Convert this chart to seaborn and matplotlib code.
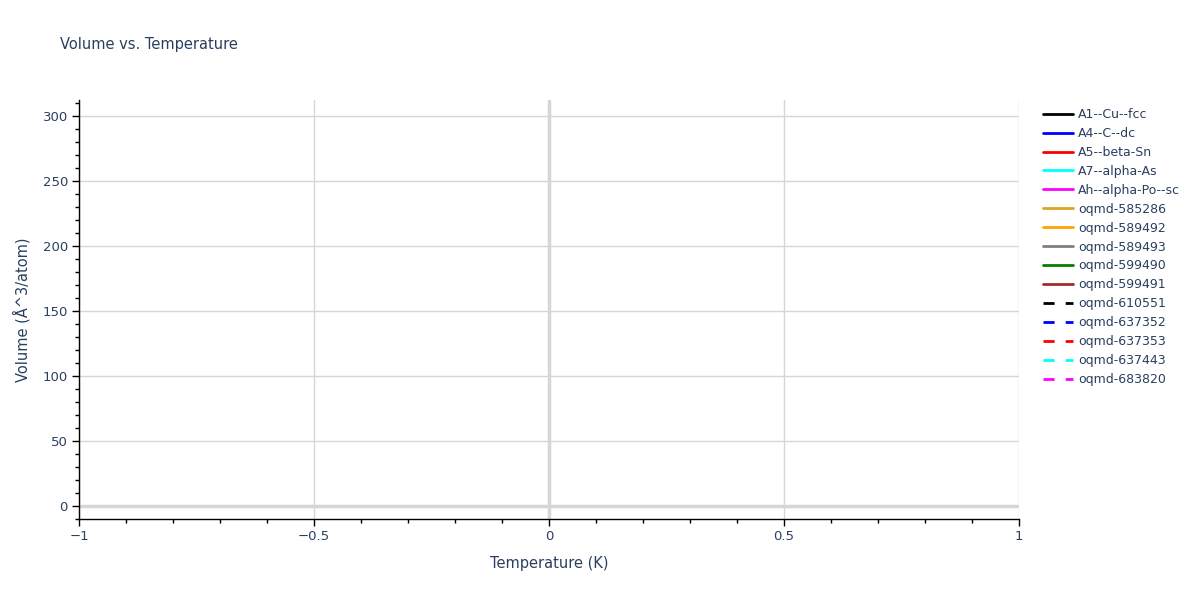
import matplotlib
matplotlib.use("Agg")
import matplotlib.pyplot as plt
import seaborn as sns
import numpy as np
import pandas as pd
from matplotlib.ticker import MultipleLocator, FuncFormatter

sns.set_theme(style="white")
plt.rcParams['font.family'] = ['DejaVu Sans']

series_names = ["A1--Cu--fcc", "A4--C--dc", "A5--beta-Sn", "A7--alpha-As", "Ah--alpha-Po--sc",
                "oqmd-585286", "oqmd-589492", "oqmd-589493", "oqmd-599490", "oqmd-599491",
                "oqmd-610551", "oqmd-637352", "oqmd-637353", "oqmd-637443", "oqmd-683820"]
series_colors = ["black", "blue", "red", "cyan", "magenta",
                 "goldenrod", "orange", "gray", "green", "brown",
                 "black", "blue", "red", "cyan", "magenta"]
series_dashed = [False]*10 + [True]*5
# No visible data in the reference: every series is empty
temperature = [[] for _ in series_names]
volume = [[] for _ in series_names]

x_range = [-1, 1]
y_range = [-10, 312]
x_ticks = [-1, -0.5, 0, 0.5, 1]
y_ticks = [0, 50, 100, 150, 200, 250, 300]

txt = "#2a3f5f"
fig = plt.figure(figsize=(12, 6), dpi=100)
ax = fig.add_axes([79/1200, 1-519/600, 940/1200, 419/600])

for name, col, dash, xs, ys in zip(series_names, series_colors, series_dashed, temperature, volume):
    df = pd.DataFrame({"T": pd.Series(xs, dtype=float), "V": pd.Series(ys, dtype=float)})
    ax.plot(df["T"], df["V"], color=col, lw=2, ls=(0, (4, 4)) if dash else "-", label=name)

ax.set_xlim(*x_range)
ax.set_ylim(*y_range)
ax.set_xticks(x_ticks)
ax.set_yticks(y_ticks)
ax.xaxis.set_minor_locator(MultipleLocator(0.1))
ax.yaxis.set_minor_locator(MultipleLocator(10))
ax.xaxis.set_major_formatter(FuncFormatter(lambda v, p: ("%g" % v).replace("-", "\u2212")))
ax.grid(True, which="major", color="#d6d6d6", lw=1)
ax.set_axisbelow(True)
ax.axhline(0, color="#d6d6d6", lw=2.5, zorder=1)
ax.axvline(0, color="#d6d6d6", lw=2.5, zorder=1)

for s in ["top", "right"]:
    ax.spines[s].set_visible(False)
for s in ["left", "bottom"]:
    ax.spines[s].set_color("black")
    ax.spines[s].set_linewidth(1)
ax.tick_params(which="major", direction="out", length=5, width=1, color="black", labelcolor=txt, labelsize=9.5,
               left=True, bottom=True, pad=3)
ax.tick_params(which="minor", direction="out", length=3, width=1, color="black", left=True, bottom=True)

ax.set_xlabel("Temperature (K)", color=txt, fontsize=10.5, labelpad=9)
ax.set_ylabel("Volume (Å^3/atom)", color=txt, fontsize=10.5, labelpad=9)
fig.text(60/1200, 1-45/600, "Volume vs. Temperature", color=txt, fontsize=10.5, va="center", ha="left")

leg = ax.legend(loc="upper left", bbox_to_anchor=(1038/1200, 1-103/600), bbox_transform=fig.transFigure,
                frameon=False, fontsize=9, labelcolor=txt, handlelength=2.4, handletextpad=0.4,
                labelspacing=0.475, borderaxespad=0)

fig.savefig("out.png", dpi=100)
